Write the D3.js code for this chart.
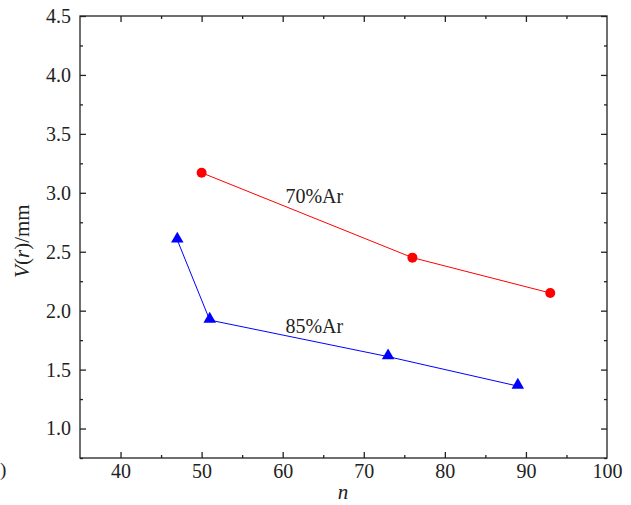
<!DOCTYPE html>
<html>
<head>
<meta charset="utf-8">
<script src="https://cdn.jsdelivr.net/npm/d3@7"></script>
<style>
body { margin: 0; background: #fff; }
svg text { font-family: "Liberation Serif", "Times New Roman", serif; fill: #222; }
</style>
</head>
<body>
<div id="chart"></div>
<script>
// values
var ar70X = [50, 76, 93];
var ar70Y = [3.17, 2.45, 2.15];
var ar85X = [47, 51, 73, 89];
var ar85Y = [2.60, 1.92, 1.61, 1.36];
var xTicks = [40, 50, 60, 70, 80, 90, 100];
var yTicks = [1.0, 1.5, 2.0, 2.5, 3.0, 3.5, 4.0, 4.5];

var W = 631, H = 505;
var margin = {top: 16, right: 24, bottom: 47, left: 80},
    width = W - margin.left - margin.right,
    height = H - margin.top - margin.bottom;

var svg = d3.select("#chart").append("svg")
    .attr("width", W).attr("height", H);

var g = svg.append("g")
    .attr("transform", "translate(" + margin.left + "," + margin.top + ")");

var x = d3.scaleLinear().domain([35, 100]).range([0, width]);
var y = d3.scaleLinear().domain([0.75, 4.5]).range([height, 0]);

var xMinor = d3.range(45, 100, 10);
var yMinor = d3.range(0.75, 4.5, 0.5);

// frame
g.append("rect").attr("width", width).attr("height", height)
    .attr("fill", "none").attr("stroke", "#222").attr("stroke-width", 1.3);

function tickGroup(axis, ticks, len) {
    return axis.tickValues(ticks).tickSize(-len).tickSizeOuter(0).tickFormat("");
}

// major ticks (inward, all sides)
var bx = g.append("g").attr("transform", "translate(0," + height + ")")
    .call(d3.axisBottom(x).tickValues(xTicks)
        .tickSize(-6).tickSizeOuter(0).tickFormat(d3.format("d")));
bx.select(".domain").remove();
bx.selectAll("text").attr("font-size", 20).attr("y", 20).attr("dy", 0);
bx.selectAll(".tick").filter(function(d){ return d === 100; }).select("line").remove();

var bxm = g.append("g").attr("transform", "translate(0," + height + ")")
    .call(tickGroup(d3.axisBottom(x), xMinor, 3));

var tx = g.append("g").call(tickGroup(d3.axisTop(x), xTicks.filter(function(d){ return d < 100; }), 6));
var txm = g.append("g").call(tickGroup(d3.axisTop(x), xMinor, 3));

var ly = g.append("g")
    .call(d3.axisLeft(y).tickValues(yTicks).tickSize(-6).tickSizeOuter(0)
        .tickPadding(9).tickFormat(d3.format(".1f")));
ly.select(".domain").remove();
ly.selectAll("text").attr("font-size", 20);
var lym = g.append("g").call(tickGroup(d3.axisLeft(y), yMinor, 3));

var ry = g.append("g").attr("transform", "translate(" + width + ",0)")
    .call(tickGroup(d3.axisRight(y), yTicks, 6));
var rym = g.append("g").attr("transform", "translate(" + width + ",0)")
    .call(tickGroup(d3.axisRight(y), yMinor, 3));

[bxm, tx, txm, lym, ry, rym].forEach(function(a) { a.select(".domain").remove(); });
g.selectAll(".tick line").attr("stroke", "#222").attr("stroke-width", 1.3);

// series
var line = d3.line().x(function(d){ return x(d[0]); }).y(function(d){ return y(d[1]); });
var red = d3.zip(ar70X, ar70Y), blue = d3.zip(ar85X, ar85Y);

g.append("path").datum(red).attr("d", line)
    .attr("fill", "none").attr("stroke", "#ff0000").attr("stroke-width", 1);
g.append("path").datum(blue).attr("d", line)
    .attr("fill", "none").attr("stroke", "#0000ff").attr("stroke-width", 1);

g.selectAll(".dot").data(red).enter().append("circle")
    .attr("cx", function(d){ return x(d[0]); })
    .attr("cy", function(d){ return y(d[1]); })
    .attr("r", 5).attr("fill", "#ff0000");

var tri = d3.symbol().type(d3.symbolTriangle).size(68);
g.selectAll(".tri").data(blue).enter().append("path")
    .attr("d", tri)
    .attr("transform", function(d){ return "translate(" + x(d[0]) + "," + (y(d[1]) - 1) + ")"; })
    .attr("fill", "#0000ff");

// series labels
g.append("text").attr("x", x(63.9)).attr("y", y(2.915))
    .attr("text-anchor", "middle").attr("font-size", 20).text("70%Ar");
g.append("text").attr("x", x(63.9)).attr("y", y(1.81))
    .attr("text-anchor", "middle").attr("font-size", 20).text("85%Ar");

// axis titles
svg.append("text").attr("x", 343).attr("y", 499)
    .attr("text-anchor", "middle").attr("font-size", 21)
    .attr("font-style", "italic").text("n");

var yt = svg.append("text")
    .attr("transform", "translate(29," + (margin.top + y(2.59)) + ") rotate(-90)")
    .attr("text-anchor", "middle").attr("font-size", 21);
yt.append("tspan").attr("font-style", "italic").text("V");
yt.append("tspan").text("(");
yt.append("tspan").attr("font-style", "italic").text("r");
yt.append("tspan").text(")/mm");

// leftover bracket at the page's lower-left edge
svg.append("text").attr("x", 0).attr("y", 476)
    .attr("font-size", 19).text(")");
</script>
</body>
</html>
